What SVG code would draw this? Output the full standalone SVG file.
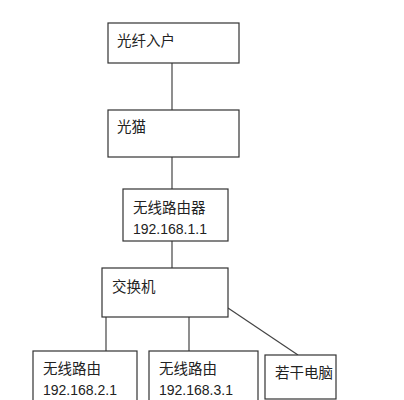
<svg xmlns="http://www.w3.org/2000/svg" width="404" height="400" viewBox="0 0 404 400">
<style>
.box{fill:#fff;stroke:#333;stroke-width:1.2}
.t{font-family:"Noto Sans CJK SC","Liberation Sans",sans-serif;font-size:14.5px;fill:#222}
.n{font-family:"Liberation Sans",sans-serif;font-size:14px;fill:#222}
.c{stroke:#444;stroke-width:1.2;fill:none}
</style>
<rect width="404" height="400" fill="#fff"/>
<g id="connectors">
<line class="c" x1="172" y1="63" x2="172" y2="110"/>
<line class="c" x1="172" y1="157" x2="172" y2="189"/>
<line class="c" x1="172" y1="241" x2="172" y2="268"/>
<line class="c" x1="106" y1="317" x2="106" y2="351"/>
<line class="c" x1="189" y1="317" x2="189" y2="351"/>
<line class="c" x1="228" y1="308" x2="298" y2="355"/>
</g>
<g id="n1"><rect class="box" x="108" y="23" width="131" height="40"/><text class="t" x="117" y="46">光纤入户</text></g>
<g id="n2"><rect class="box" x="108" y="110" width="131" height="47"/><text class="t" x="117" y="132">光猫</text></g>
<g id="n3"><rect class="box" x="123" y="189" width="105" height="52"/><text class="t" x="133" y="213">无线路由器</text><text class="n" x="133" y="234">192.168.1.1</text></g>
<g id="n4"><rect class="box" x="102" y="268" width="126" height="49"/><text class="t" x="112" y="292">交换机</text></g>
<g id="n5"><rect class="box" x="33" y="351" width="104" height="60"/><text class="t" x="43" y="374">无线路由</text><text class="n" x="43" y="395">192.168.2.1</text></g>
<g id="n6"><rect class="box" x="149" y="351" width="109" height="60"/><text class="t" x="159" y="374">无线路由</text><text class="n" x="159" y="395">192.168.3.1</text></g>
<g id="n7"><rect class="box" x="265" y="355" width="71" height="44"/><text class="t" x="275" y="378">若干电脑</text></g>
</svg>
